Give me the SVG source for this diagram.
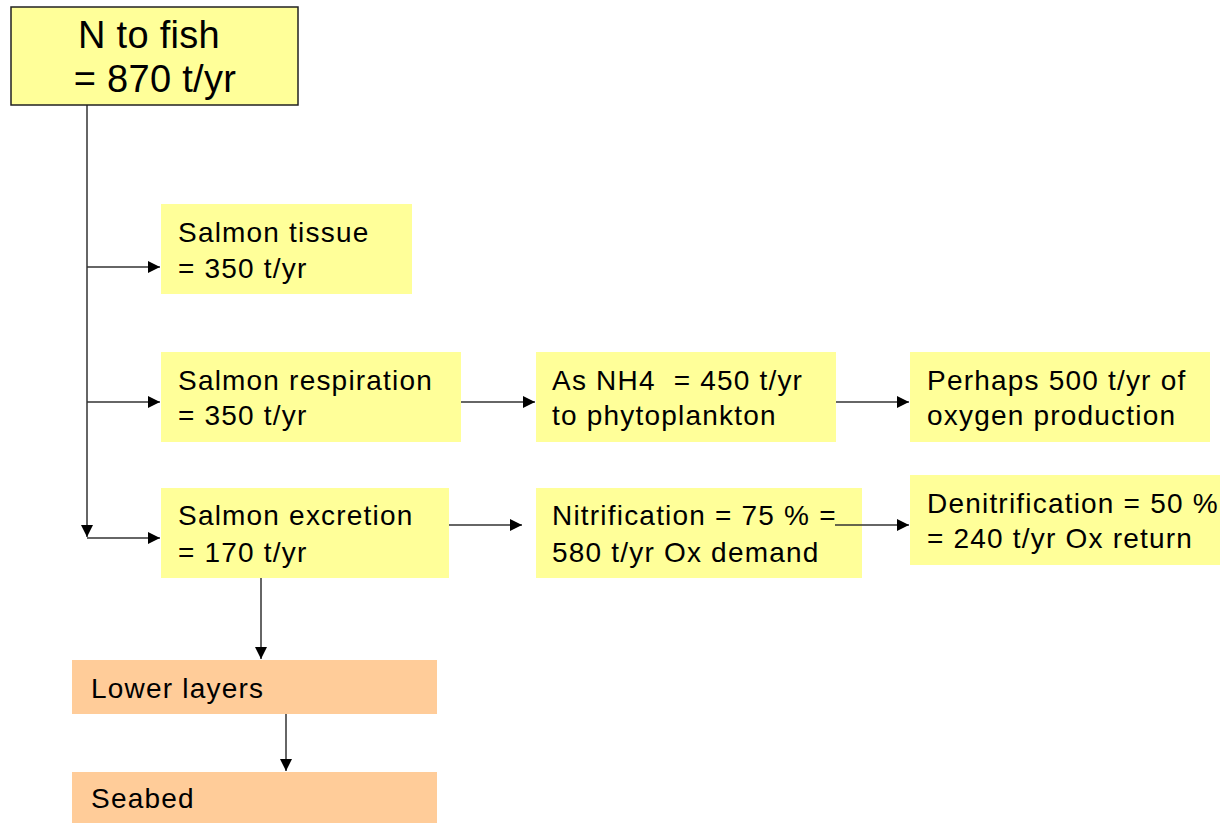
<svg xmlns="http://www.w3.org/2000/svg" width="1224" height="823" viewBox="0 0 1224 823">
<style>
.y{fill:#ffff99}
.o{fill:#ffcc99}
text{font-family:"Liberation Sans",Arial,sans-serif;font-size:28px;fill:#000;white-space:pre;letter-spacing:1.2px}
.big{font-size:38px;letter-spacing:0.3px}
.c line{stroke:#333;stroke-width:1.5;fill:none}
</style>
<defs>
<marker id="b" viewBox="0 0 10 10" refX="10" refY="5" markerWidth="12" markerHeight="12" markerUnits="userSpaceOnUse" orient="auto">
<path d="M0,0 L10,5 L0,10 z" fill="#000"/>
</marker>
</defs>
<rect width="1224" height="823" fill="#fff"/>
<g class="c">
<line x1="87" y1="105" x2="87" y2="537" marker-end="url(#b)"/>
<line x1="87" y1="267" x2="160" y2="267" marker-end="url(#b)"/>
<line x1="87" y1="402" x2="160" y2="402" marker-end="url(#b)"/>
<line x1="87" y1="538" x2="160" y2="538" marker-end="url(#b)"/>
<line x1="461" y1="402" x2="535" y2="402" marker-end="url(#b)"/>
<line x1="836" y1="402" x2="909" y2="402" marker-end="url(#b)"/>
<line x1="449" y1="525" x2="522" y2="525" marker-end="url(#b)"/>
<line x1="261" y1="578" x2="261" y2="659" marker-end="url(#b)"/>
<line x1="286" y1="710" x2="286" y2="771" marker-end="url(#b)"/>
</g>
<g id="n-fish">
<rect class="y" x="11" y="7" width="287" height="98" stroke="#222" stroke-width="1.5"/>
<text class="big" x="149" y="48" text-anchor="middle">N to fish</text>
<text class="big" x="155" y="92" text-anchor="middle">= 870 t/yr</text>
</g>
<g id="tissue">
<rect class="y" x="161" y="204" width="251" height="90"/>
<text x="178" y="242">Salmon tissue</text>
<text x="178" y="278">= 350 t/yr</text>
</g>
<g id="respiration">
<rect class="y" x="161" y="352" width="300" height="90"/>
<text x="178" y="390">Salmon respiration</text>
<text x="178" y="425">= 350 t/yr</text>
</g>
<g id="excretion">
<rect class="y" x="161" y="488" width="288" height="90"/>
<text x="178" y="525">Salmon excretion</text>
<text x="178" y="562">= 170 t/yr</text>
</g>
<g id="nh4">
<rect class="y" x="536" y="352" width="300" height="90"/>
<text x="552" y="390">As NH4  = 450 t/yr</text>
<text x="552" y="425">to phytoplankton</text>
</g>
<g id="oxygen">
<rect class="y" x="910" y="352" width="300" height="90"/>
<text x="927" y="390">Perhaps 500 t/yr of</text>
<text x="927" y="425">oxygen production</text>
</g>
<g id="nitrification">
<rect class="y" x="536" y="488" width="326" height="90"/>
<text x="552" y="525">Nitrification = 75 % =</text>
<text x="552" y="562">580 t/yr Ox demand</text>
</g>
<g id="denitrification">
<rect class="y" x="910" y="475" width="310" height="90"/>
<text x="927" y="513">Denitrification = 50 %</text>
<text x="927" y="548">= 240 t/yr Ox return</text>
</g>
<g id="lower">
<rect class="o" x="72" y="660" width="365" height="54"/>
<text x="91" y="698">Lower layers</text>
</g>
<g id="seabed">
<rect class="o" x="72" y="772" width="365" height="51"/>
<text x="91" y="808">Seabed</text>
</g>
<g class="c">
<line x1="835" y1="525" x2="909" y2="525" marker-end="url(#b)"/>
</g>
</svg>
